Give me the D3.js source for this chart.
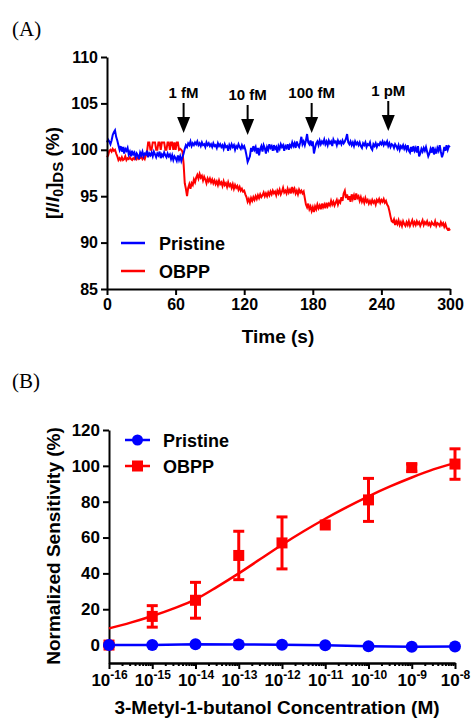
<!DOCTYPE html>
<html>
<head>
<meta charset="utf-8">
<script src="https://cdn.jsdelivr.net/npm/d3@7"></script>
<style>
  body { margin: 0; background: #fff; }
  svg { display: block; }
  text { font-family: "Liberation Sans", Arial, sans-serif; font-weight: bold; fill: #000; }
  .panel-label { font-family: "Liberation Serif", "Times New Roman", serif; font-weight: normal; font-size: 21px; }
  .axis path, .axis line { stroke: #000; stroke-width: 2; }
  .axis text { font-size: 16px; }
</style>
</head>
<body>
<svg id="chart" width="471" height="718"></svg>
<script>
// ---- panel A data: response traces, one reading per second, 0 to 300 s
var traceStep = 1;
var pristineTrace = [
  100.8, 101.1, 100.9, 100.6, 101.0, 101.6, 101.9, 102.1, 101.4, 101.0,
  100.5, 100.0, 100.4, 99.8, 100.3, 99.6, 100.1, 99.9, 100.2, 99.5,
  99.8, 99.3, 99.9, 99.5, 99.7, 99.2, 99.6, 99.4, 99.0, 99.7,
  99.4, 99.8, 99.3, 99.6, 99.5, 99.9, 99.2, 99.6, 99.4, 99.7,
  99.3, 99.8, 99.5, 99.2, 99.6, 99.4, 99.8, 99.1, 99.5, 99.3,
  99.7, 99.4, 99.2, 99.6, 99.3, 99.5, 99.0, 99.4, 98.9, 99.3,
  99.1, 98.8, 99.4, 98.9, 99.3, 98.8, 99.2, 99.6, 100.1, 100.5,
  100.3, 100.7, 100.5, 100.9, 100.4, 100.7, 100.5, 100.8, 100.6, 100.9,
  100.5, 100.7, 100.4, 100.8, 100.5, 100.6, 100.3, 100.8, 100.5, 100.7,
  100.4, 100.6, 100.3, 100.7, 100.4, 100.5, 100.2, 100.7, 100.4, 100.6,
  100.3, 100.5, 100.1, 100.6, 100.3, 100.4, 99.9, 100.5, 100.2, 100.6,
  100.3, 100.5, 100.0, 100.4, 100.2, 100.6, 100.3, 100.1, 100.5, 100.2,
  100.4, 100.0, 99.4, 98.7, 99.0, 99.3, 100.2, 99.8, 100.4, 100.0,
  100.3, 99.6, 100.2, 99.4, 100.1, 100.4, 99.8, 100.5, 100.2, 99.6,
  100.3, 100.0, 100.6, 100.2, 100.4, 99.9, 100.5, 100.1, 100.3, 99.7,
  100.4, 100.1, 100.6, 100.3, 100.5, 99.9, 100.4, 100.2, 100.6, 100.0,
  100.5, 100.3, 100.8, 100.4, 100.7, 100.2, 100.9, 100.5, 100.3, 100.8,
  101.4, 100.6, 100.9, 100.5, 101.0, 101.7, 100.8, 100.6, 101.0, 100.4,
  100.9, 99.6, 100.2, 100.7, 100.9, 100.5, 101.0, 100.6, 100.9, 100.7,
  101.1, 100.6, 100.9, 100.5, 101.0, 100.7, 100.9, 100.4, 101.1, 100.8,
  100.9, 100.5, 101.0, 100.7, 100.9, 100.6, 101.0, 100.7, 100.9, 101.2,
  101.7, 100.8, 100.6, 100.9, 100.5, 100.8, 100.4, 100.9, 100.6, 100.8,
  100.5, 100.8, 100.4, 100.2, 100.7, 100.5, 100.8, 100.3, 100.6, 100.5,
  100.8, 100.2, 100.0, 100.6, 100.4, 100.7, 100.3, 100.6, 100.5, 100.8,
  100.6, 100.9, 100.5, 100.8, 100.6, 100.9, 100.4, 100.7, 100.3, 100.6,
  100.5, 100.2, 100.6, 100.4, 100.1, 100.5, 100.0, 100.4, 100.2, 100.5,
  100.1, 100.4, 100.0, 100.5, 99.9, 99.7, 100.3, 99.8, 100.4, 99.9,
  100.2, 99.7, 100.4, 99.3, 99.6, 100.1, 99.8, 100.2, 99.9, 100.3,
  99.8, 99.3, 99.6, 100.1, 99.7, 100.3, 99.5, 100.0, 99.6, 100.2,
  99.9, 100.5, 99.8, 99.2, 99.6, 100.3, 99.9, 100.5, 100.0, 100.4,
  100.3
];
var obppTrace = [
  99.2, 99.4, 99.9, 100.0, 99.8, 100.1, 99.9, 100.0, 99.6, 99.3,
  98.9, 99.1, 98.9, 99.2, 98.9, 99.0, 99.3, 98.9, 99.1, 99.0,
  99.2, 99.0, 98.9, 99.1, 99.0, 99.3, 99.0, 99.2, 99.0, 99.1,
  99.3, 99.0, 99.2, 99.0, 99.4, 99.8, 100.8, 100.8, 100.0, 100.0,
  100.8, 100.8, 100.8, 100.0, 100.0, 100.8, 100.8, 100.0, 100.8, 100.8,
  100.8, 100.0, 100.0, 100.8, 100.8, 100.0, 100.8, 100.8, 100.0, 100.8,
  100.0, 100.8, 100.8, 100.0, 100.1, 100.0, 99.8, 98.5, 96.4, 95.8,
  95.0, 95.9, 96.3, 95.8, 96.4, 96.2, 96.8, 96.5, 97.0, 97.3,
  96.9, 97.4, 97.0, 97.2, 96.7, 97.1, 96.8, 96.4, 96.9, 96.6,
  96.9, 96.5, 96.8, 96.4, 96.7, 96.3, 96.6, 96.2, 96.7, 96.3,
  96.5, 96.1, 96.6, 96.2, 96.4, 96.0, 96.5, 96.1, 96.3, 95.9,
  96.3, 95.8, 96.2, 95.9, 96.1, 95.7, 96.0, 95.6, 95.8, 95.5,
  95.6, 95.2, 94.9, 94.4, 94.7, 94.3, 94.8, 94.5, 94.9, 94.6,
  95.0, 94.7, 95.1, 94.8, 95.2, 94.9, 95.1, 95.4, 95.0, 95.3,
  95.0, 95.4, 95.1, 95.5, 95.2, 95.6, 95.3, 95.5, 95.1, 95.6,
  95.3, 95.7, 95.2, 95.5, 95.9, 95.4, 95.6, 95.3, 95.8, 95.4,
  95.7, 95.3, 96.0, 95.5, 95.8, 95.3, 95.6, 95.2, 95.7, 95.4,
  95.6, 95.3, 95.5, 94.8, 94.1, 93.8, 94.2, 93.6, 93.9, 93.4,
  93.8, 93.3, 93.9, 93.6, 94.1, 93.7, 94.0, 93.6, 94.2, 93.8,
  94.1, 93.7, 94.3, 93.9, 94.2, 94.0, 94.5, 94.1, 94.4, 94.0,
  94.3, 94.6, 94.1, 94.5, 94.3, 94.9, 94.5, 95.3, 95.6, 94.8,
  95.2, 94.6, 95.0, 94.4, 95.2, 94.7, 95.1, 94.6, 95.3, 94.8,
  95.0, 94.5, 94.9, 94.4, 94.7, 94.3, 94.8, 94.4, 94.6, 94.2,
  94.5, 94.2, 94.6, 94.3, 94.5, 94.1, 94.6, 94.4, 94.7, 94.3,
  94.6, 94.4, 94.7, 94.3, 94.5, 94.1, 93.9, 93.4, 92.8, 92.3,
  92.2, 92.5, 91.9, 92.3, 92.0, 92.4, 91.9, 92.2, 91.8, 92.3,
  92.0, 91.8, 92.2, 91.9, 92.3, 91.8, 92.1, 92.4, 91.9, 92.2,
  91.9, 92.3, 92.0, 92.2, 91.8, 92.1, 92.4, 91.9, 92.2, 92.0,
  92.3, 91.9, 92.1, 91.8, 92.2, 92.0, 91.9, 92.3, 91.8, 92.1,
  92.0, 91.8, 92.2, 91.9, 92.1, 91.7, 92.0, 91.6, 91.4, 91.5,
  91.3
];
var timeTicks = [0, 60, 120, 180, 240, 300];
var ratioTicks = [85, 90, 95, 100, 105, 110];
var doseTimes = [67, 123, 179, 246];
var doseLabels = ["1 fM", "10 fM", "100 fM", "1 pM"];
var doseLabelShift = [0, 2, 0, -2];

// ---- panel B data: dose response, one point per decade
var concExp = [-16, -15, -14, -13, -12, -11, -10, -9, -8];
var pristineSens = [0, 0, 0.5, 0.3, 0.2, -0.1, -0.7, -0.9, -0.8];
var obppSens = [0, 16, 25, 50, 57, 67, 81, 99, 101];
var obppErr = [0.8, 6, 10, 13.5, 14.5, 0, 12, 2, 8.5];
// fitted curve (exponent, %)
var fitExp = [-16, -15.5, -15, -14.5, -14, -13.5, -13, -12.5, -12, -11.5,
              -11, -10.5, -10, -9.5, -9, -8.5, -8];
var fitSens = [9.3, 12.5, 16.2, 20.5, 25.5, 32.5, 40, 48, 56, 63.5,
               70.5, 77, 83, 88.5, 93.5, 98, 101.5];
var sensTicks = [0, 20, 40, 60, 80, 100, 120];

var blue = "#0000ff", red = "#ff0000";
var svg = d3.select("#chart");

// ================= panel A =================
svg.append("text").attr("class", "panel-label")
    .attr("x", 12).attr("y", 36).text("(A)");

var xA = d3.scaleLinear().domain([0, 300]).range([107, 450]);
var yA = d3.scaleLinear().domain([85, 110]).range([289, 57]);

var gA = svg.append("g");

var traceLine = d3.line()
    .x(function(d, i) { return xA(i * traceStep); })
    .y(function(d) { return yA(d); });

gA.append("path").datum(obppTrace)
    .attr("d", traceLine)
    .attr("fill", "none").attr("stroke", red).attr("stroke-width", 2);
gA.append("path").datum(pristineTrace)
    .attr("d", traceLine)
    .attr("fill", "none").attr("stroke", blue).attr("stroke-width", 2);

gA.append("g").attr("class", "axis")
    .attr("transform", "translate(0," + yA(85) + ")")
    .call(d3.axisBottom(xA).tickValues(timeTicks).tickSize(6).tickPadding(4).tickSizeOuter(0));
gA.append("g").attr("class", "axis")
    .attr("transform", "translate(" + xA(0) + ",0)")
    .call(d3.axisLeft(yA).tickValues(ratioTicks).tickSize(6).tickPadding(3).tickSizeOuter(0));

// dose arrows
var arrows = gA.selectAll("g.dose").data(doseTimes).enter().append("g")
    .attr("class", "dose")
    .attr("transform", function(d) { return "translate(" + xA(d) + ",0)"; });
arrows.append("text")
    .attr("text-anchor", "middle")
    .attr("y", function(d, i) { return 98 + doseLabelShift[i]; })
    .style("font-size", "15px")
    .text(function(d, i) { return doseLabels[i]; });
arrows.append("line")
    .attr("x1", 0).attr("x2", 0)
    .attr("y1", function(d, i) { return 103 + doseLabelShift[i]; })
    .attr("y2", 120)
    .attr("stroke", "#000").attr("stroke-width", 2);
arrows.append("path")
    .attr("d", function(d, i) {
      var top = 117 + doseLabelShift[i];
      return "M-6.5," + top + "L6.5," + top + "L0," + (top + 16) + "Z";
    })
    .attr("fill", "#000");

// legend A
var legA = gA.append("g");
[["Pristine", blue], ["OBPP", red]].forEach(function(s, i) {
  var y = 243 + i * 28;
  legA.append("line").attr("x1", 121).attr("x2", 145).attr("y1", y).attr("y2", y)
      .attr("stroke", s[1]).attr("stroke-width", 2.5);
  legA.append("text").attr("x", 159).attr("y", y + 6.5)
      .style("font-size", "18px").text(s[0]);
});

// titles A
svg.append("text").attr("text-anchor", "middle")
    .attr("x", 278).attr("y", 343).style("font-size", "19px").text("Time (s)");

var yTitleA = svg.append("text").attr("text-anchor", "middle")
    .attr("transform", "translate(59,173) rotate(-90)")
    .style("font-size", "19px");
yTitleA.append("tspan").text("[");
yTitleA.append("tspan").style("font-style", "italic").text("I");
yTitleA.append("tspan").text("/");
yTitleA.append("tspan").style("font-style", "italic").text("I");
yTitleA.append("tspan").attr("dy", 4).style("font-size", "14px").text("0");
yTitleA.append("tspan").attr("dy", -4).text("]");
yTitleA.append("tspan").attr("dy", 4).style("font-size", "15px").text("DS");
yTitleA.append("tspan").attr("dy", -4).text(" (%)");

// ================= panel B =================
svg.append("text").attr("class", "panel-label")
    .attr("x", 12).attr("y", 388).text("(B)");

var xB = d3.scaleLog().domain([1e-16, 1e-8]).range([109, 455]);
var yB = d3.scaleLinear().domain([-10, 120]).range([663, 430]);
var gB = svg.append("g");

var minorTicks = [];
concExp.slice(0, -1).forEach(function(e) {
  for (var m = 2; m <= 9; m++) minorTicks.push(m * Math.pow(10, e));
});

gB.append("g").attr("class", "axis")
    .attr("transform", "translate(0," + yB(-10) + ")")
    .call(d3.axisBottom(xB).tickValues(minorTicks).tickSize(3).tickFormat("").tickSizeOuter(0));
var xAxisB = gB.append("g").attr("class", "axis")
    .attr("transform", "translate(0," + yB(-10) + ")")
    .call(d3.axisBottom(xB)
      .tickValues(concExp.map(function(e) { return Math.pow(10, e); }))
      .tickSize(6).tickPadding(5).tickSizeOuter(0)
      .tickFormat(function() { return ""; }));
xAxisB.selectAll(".tick text").each(function(d, i) {
  var t = d3.select(this).style("font-size", "17px");
  t.append("tspan").text("10");
  t.append("tspan").attr("dy", -7).style("font-size", "12px").text(concExp[i]);
});
gB.append("g").attr("class", "axis")
    .attr("transform", "translate(" + xB(1e-16) + ",0)")
    .call(d3.axisLeft(yB).tickValues(sensTicks).tickSize(6).tickPadding(3).tickSizeOuter(0))
    .selectAll("text").style("font-size", "17px");

// fit curve
var fitLine = d3.line()
    .x(function(d, i) { return xB(Math.pow(10, fitExp[i])); })
    .y(function(d) { return yB(d); })
    .curve(d3.curveMonotoneX);
gB.append("path").datum(fitSens).attr("d", fitLine)
    .attr("fill", "none").attr("stroke", red).attr("stroke-width", 2.5);

// error bars + squares
var errs = gB.selectAll("g.err").data(obppSens).enter().append("g")
    .attr("class", "err")
    .attr("transform", function(d, i) { return "translate(" + xB(Math.pow(10, concExp[i])) + ",0)"; });
errs.each(function(d, i) {
  if (!(obppErr[i] > 0)) return;
  var g = d3.select(this);
  var lo = yB(d - obppErr[i]), hi = yB(d + obppErr[i]);
  g.append("line").attr("y1", lo).attr("y2", hi)
      .attr("stroke", red).attr("stroke-width", 3);
  [lo, hi].forEach(function(y) {
    g.append("line").attr("x1", -5.5).attr("x2", 5.5).attr("y1", y).attr("y2", y)
        .attr("stroke", red).attr("stroke-width", 3);
  });
});
errs.append("rect")
    .attr("x", -5.5).attr("width", 11)
    .attr("y", function(d) { return yB(d) - 5.5; }).attr("height", 11)
    .attr("fill", red);

// pristine line + circles
var pLine = d3.line()
    .x(function(d, i) { return xB(Math.pow(10, concExp[i])); })
    .y(function(d) { return yB(d); });
gB.append("path").datum(pristineSens).attr("d", pLine)
    .attr("fill", "none").attr("stroke", blue).attr("stroke-width", 2.5);
gB.selectAll("circle.pr").data(pristineSens).enter().append("circle")
    .attr("class", "pr")
    .attr("cx", function(d, i) { return xB(Math.pow(10, concExp[i])); })
    .attr("cy", function(d) { return yB(d); })
    .attr("r", 6).attr("fill", blue);

// legend B
var legB = gB.append("g");
[["Pristine", blue, "circle"], ["OBPP", red, "square"]].forEach(function(s, i) {
  var y = 440 + i * 26;
  legB.append("line").attr("x1", 125).attr("x2", 150).attr("y1", y).attr("y2", y)
      .attr("stroke", s[1]).attr("stroke-width", 2.5);
  if (s[2] === "circle") {
    legB.append("circle").attr("cx", 137.5).attr("cy", y).attr("r", 5.5).attr("fill", s[1]);
  } else {
    legB.append("rect").attr("x", 132).attr("y", y - 5.5).attr("width", 11).attr("height", 11)
        .attr("fill", s[1]);
  }
  legB.append("text").attr("x", 163).attr("y", y + 6.5)
      .style("font-size", "18px").text(s[0]);
});

// titles B
svg.append("text").attr("text-anchor", "middle")
    .attr("x", 277).attr("y", 714).style("font-size", "19px")
    .text("3-Metyl-1-butanol Concentration (M)");
svg.append("text").attr("text-anchor", "middle")
    .attr("transform", "translate(60,546) rotate(-90)")
    .style("font-size", "19px").text("Normalized Sensitivity (%)");
</script>
</body>
</html>
